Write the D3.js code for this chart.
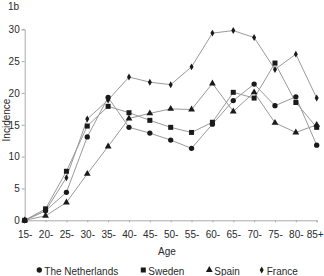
<!DOCTYPE html>
<html>
<head>
<meta charset="utf-8">
<script src="https://cdn.jsdelivr.net/npm/d3@7"></script>
<style>
  body { margin: 0; background: #fff; }
  svg text { font-family: "Liberation Sans", Arial, sans-serif; fill: #2a2a2a; }
</style>
</head>
<body>
<div class="chart"></div>
<script>
const width = 324;
const height = 276;

// age groups on the x axis
const ages = ["15-", "20-", "25-", "30-", "35-", "40-", "45-", "50-", "55-", "60-", "65-", "70-", "75-", "80-", "85+"];
const yTicks = [0, 5, 10, 15, 20, 25, 30];

// incidence per country
const netherlands = [0, 1.5, 4.4, 13.1, 19.3, 14.6, 13.7, 12.6, 11.3, 15.1, 18.8, 21.4, 18.0, 19.4, 11.8];
const sweden      = [0, 1.8, 7.7, 14.8, 17.9, 16.9, 15.7, 14.6, 13.8, 15.4, 20.1, 19.2, 24.7, 18.5, 14.6];
const spain       = [0, 0.7, 2.8, 7.3, 11.6, 16.0, 16.8, 17.5, 17.4, 21.5, 17.1, 20.1, 15.3, 13.8, 15.0];
const france      = [0, 1.5, 6.7, 15.9, 18.9, 22.5, 21.7, 21.3, 24.1, 29.4, 29.8, 28.7, 23.7, 26.1, 19.2];

const series = [
  { name: "The Netherlands", values: netherlands, symbol: d3.symbolCircle, size: 22 },
  { name: "Sweden", values: sweden, symbol: d3.symbolSquare, size: 25 },
  { name: "Spain", values: spain, symbol: d3.symbolTriangle, size: 20 },
  { name: "France", values: france, symbol: d3.symbolDiamond, size: 14 }
];

const x = d3.scalePoint()
  .domain(ages)
  .range([24.7, 316.7]);

const y = d3.scaleLinear()
  .domain([0, 30])
  .range([220.3, 29.3]);

const svg = d3.select(".chart")
  .append("svg")
  .attr("width", width)
  .attr("height", height);

// panel label
svg.append("text")
  .attr("x", 8)
  .attr("y", 10)
  .attr("font-size", 10)
  .text("1b");

// y axis
const yAxis = svg.append("g")
  .attr("transform", "translate(24.7,0)")
  .call(d3.axisLeft(y).tickValues(yTicks).tickSize(3).tickPadding(2))
yAxis.selectAll("text").attr("font-size", 10).style("font-family", null);
yAxis.selectAll("line, path").attr("stroke", "#aaa");

// x axis
const xAxis = svg.append("g")
  .attr("transform", "translate(0,220.3)")
  .call(d3.axisBottom(x).tickSize(2).tickPadding(9))
xAxis.selectAll("text").attr("font-size", 10).style("font-family", null);
xAxis.selectAll("line, path").attr("stroke", "#aaa");
// last label would run off the right edge
xAxis.selectAll("text").filter(d => d === "85+").attr("dx", -2);

svg.append("text")
  .attr("x", 167)
  .attr("y", 255)
  .attr("text-anchor", "middle")
  .attr("font-size", 10)
  .text("Age");

svg.append("text")
  .attr("transform", "translate(10,120) rotate(-90)")
  .attr("text-anchor", "middle")
  .attr("font-size", 10)
  .text("Incidence");

const line = d3.line()
  .x((d, i) => x(ages[i]))
  .y(d => y(d));

const g = svg.append("g");

series.forEach(s => {
  g.append("path")
    .attr("d", line(s.values))
    .attr("fill", "none")
    .attr("stroke", "#9a9a9a")
    .attr("stroke-width", 1);
});

series.forEach(s => {
  g.selectAll(null)
    .data(s.values)
    .join("path")
    .attr("transform", (d, i) => `translate(${x(ages[i])},${y(d)})`)
    .attr("d", d3.symbol(s.symbol, s.size))
    .attr("fill", "#1a1a1a");
});

// legend
const legendX = [39.3, 143.3, 209.3, 261.7];
const legend = svg.append("g");
series.forEach((s, i) => {
  legend.append("path")
    .attr("transform", `translate(${legendX[i]},270)`)
    .attr("d", d3.symbol(s.symbol, s.size))
    .attr("fill", "#1a1a1a");
  legend.append("text")
    .attr("x", legendX[i] + 5)
    .attr("y", 274.5)
    .attr("font-size", 10)
    .text(s.name);
});
</script>
</body>
</html>
